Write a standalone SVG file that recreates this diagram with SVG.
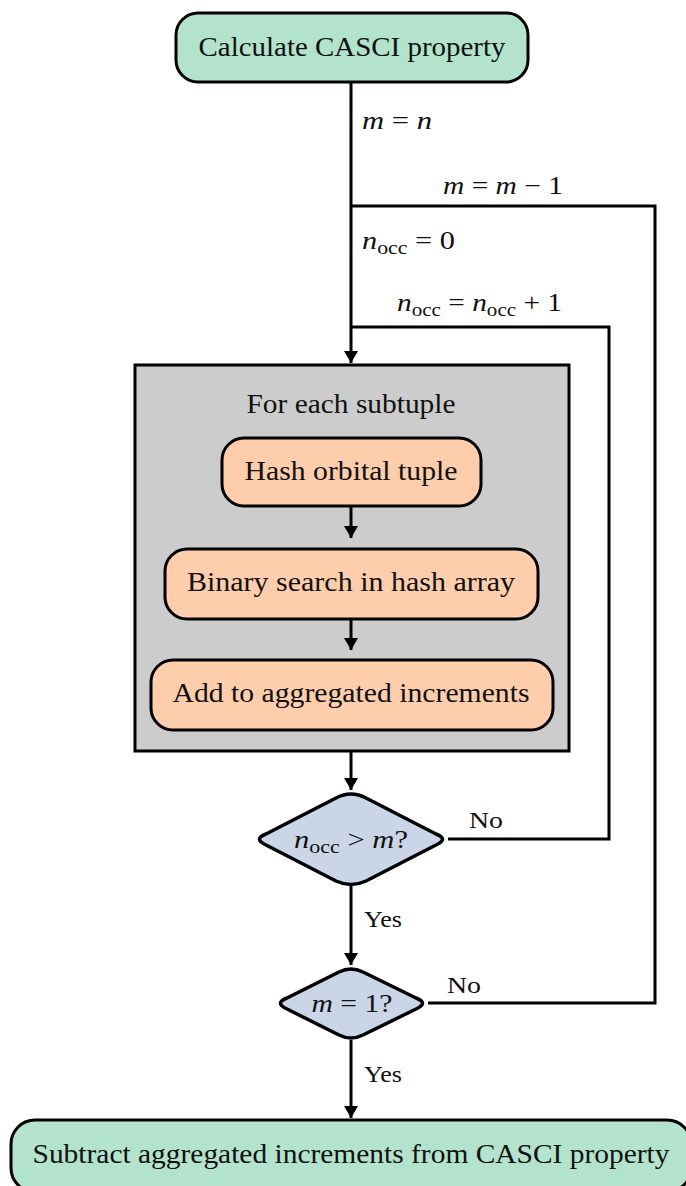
<svg xmlns="http://www.w3.org/2000/svg" width="686" height="1186" viewBox="0 0 686 1186">
  <style>
    text { font-family: "Liberation Serif", "DejaVu Serif", serif; fill: #111; }
    .lbl { font-size: 27px; text-anchor: middle; }
    .math { font-size: 25px; }
    .sm { font-size: 24px; }
    .it { font-style: italic; }
    .sub { font-size: 18px; }
    .term { fill: #b3e2cd; stroke: #000; stroke-width: 3; }
    .step { fill: #fdcdac; stroke: #000; stroke-width: 3; }
    .dec { fill: #cbd5e8; stroke: #000; stroke-width: 3.5; stroke-linejoin: round; }
    .grp { fill: #cccccc; stroke: #000; stroke-width: 3; }
    .wire { fill: none; stroke: #000; stroke-width: 3; }
  </style>
  <defs>
    <marker id="arrow" viewBox="0 0 12 14" refX="12" refY="7" markerWidth="12" markerHeight="14" markerUnits="userSpaceOnUse" orient="auto">
      <path d="M0,0 L12,7 L0,14 Z" fill="#000"/>
    </marker>
  </defs>

  <!-- loop container -->
  <g id="loop-group">
    <rect class="grp" x="135" y="365" width="434" height="386"/>
    <text class="lbl" x="351" y="413" textLength="209" lengthAdjust="spacingAndGlyphs">For each subtuple</text>
  </g>

  <!-- connectors -->
  <g id="connectors">
    <path class="wire" d="M351,82 V363" marker-end="url(#arrow)"/>
    <path class="wire" d="M428,1003 H655 V206 H351"/>
    <path class="wire" d="M448,839 H609 V327 H351"/>
    <path class="wire" d="M351,506 V538" marker-end="url(#arrow)"/>
    <path class="wire" d="M351,619 V650" marker-end="url(#arrow)"/>
    <path class="wire" d="M351,751 V790" marker-end="url(#arrow)"/>
    <path class="wire" d="M351,886 V965" marker-end="url(#arrow)"/>
    <path class="wire" d="M351,1040 V1118" marker-end="url(#arrow)"/>

    <text class="math" x="362" y="129" textLength="70" lengthAdjust="spacingAndGlyphs"><tspan class="it">m</tspan> = <tspan class="it">n</tspan></text>
    <text class="math" x="443" y="194" textLength="120" lengthAdjust="spacingAndGlyphs"><tspan class="it">m</tspan> = <tspan class="it">m</tspan> − 1</text>
    <text class="math" x="362" y="249" textLength="93" lengthAdjust="spacingAndGlyphs"><tspan class="it">n</tspan><tspan class="sub" dy="5">occ</tspan><tspan dy="-5"> = 0</tspan></text>
    <text class="math" x="397" y="311" textLength="165" lengthAdjust="spacingAndGlyphs"><tspan class="it">n</tspan><tspan class="sub" dy="5">occ</tspan><tspan dy="-5"> = </tspan><tspan class="it">n</tspan><tspan class="sub" dy="5">occ</tspan><tspan dy="-5"> + 1</tspan></text>
    <text class="sm" x="469" y="828" textLength="34" lengthAdjust="spacingAndGlyphs">No</text>
    <text class="sm" x="364" y="927" textLength="38" lengthAdjust="spacingAndGlyphs">Yes</text>
    <text class="sm" x="447" y="993" textLength="34" lengthAdjust="spacingAndGlyphs">No</text>
    <text class="sm" x="364" y="1082" textLength="38" lengthAdjust="spacingAndGlyphs">Yes</text>
  </g>

  <g id="start">
    <rect class="term" x="176" y="13" width="352" height="69" rx="22"/>
    <text class="lbl" x="352" y="56" textLength="307" lengthAdjust="spacingAndGlyphs">Calculate CASCI property</text>
  </g>

  <g id="hash">
    <rect class="step" x="222" y="438" width="259" height="68" rx="22"/>
    <text class="lbl" x="351" y="480" textLength="213" lengthAdjust="spacingAndGlyphs">Hash orbital tuple</text>
  </g>

  <g id="search">
    <rect class="step" x="165" y="549" width="373" height="70" rx="22"/>
    <text class="lbl" x="351" y="591" textLength="328" lengthAdjust="spacingAndGlyphs">Binary search in hash array</text>
  </g>

  <g id="add">
    <rect class="step" x="151" y="660" width="402" height="70" rx="22"/>
    <text class="lbl" x="351" y="702" textLength="357" lengthAdjust="spacingAndGlyphs">Add to aggregated increments</text>
  </g>

  <g id="check-occ">
    <path class="dec" d="M266,834 Q253,839 266,845 L336,881 Q351,888 366,881 L436,845 Q449,839 436,834 L366,798 Q351,790 336,798 Z"/>
    <text class="math" x="351" y="848" text-anchor="middle" textLength="114" lengthAdjust="spacingAndGlyphs"><tspan class="it">n</tspan><tspan class="sub" dy="5">occ</tspan><tspan dy="-5"> &gt; </tspan><tspan class="it">m</tspan>?</text>
  </g>

  <g id="check-m">
    <path class="dec" d="M287,998 Q274,1003 287,1009 L339,1035 Q351,1041 363,1035 L416,1009 Q429,1003 416,998 L363,972 Q351,966 339,972 Z"/>
    <text class="math" x="352" y="1012" text-anchor="middle" textLength="81" lengthAdjust="spacingAndGlyphs"><tspan class="it">m</tspan> = 1?</text>
  </g>

  <g id="finish">
    <rect class="term" x="11" y="1120" width="680" height="72" rx="24"/>
    <text class="lbl" x="351" y="1163" textLength="637" lengthAdjust="spacingAndGlyphs">Subtract aggregated increments from CASCI property</text>
  </g>
</svg>
